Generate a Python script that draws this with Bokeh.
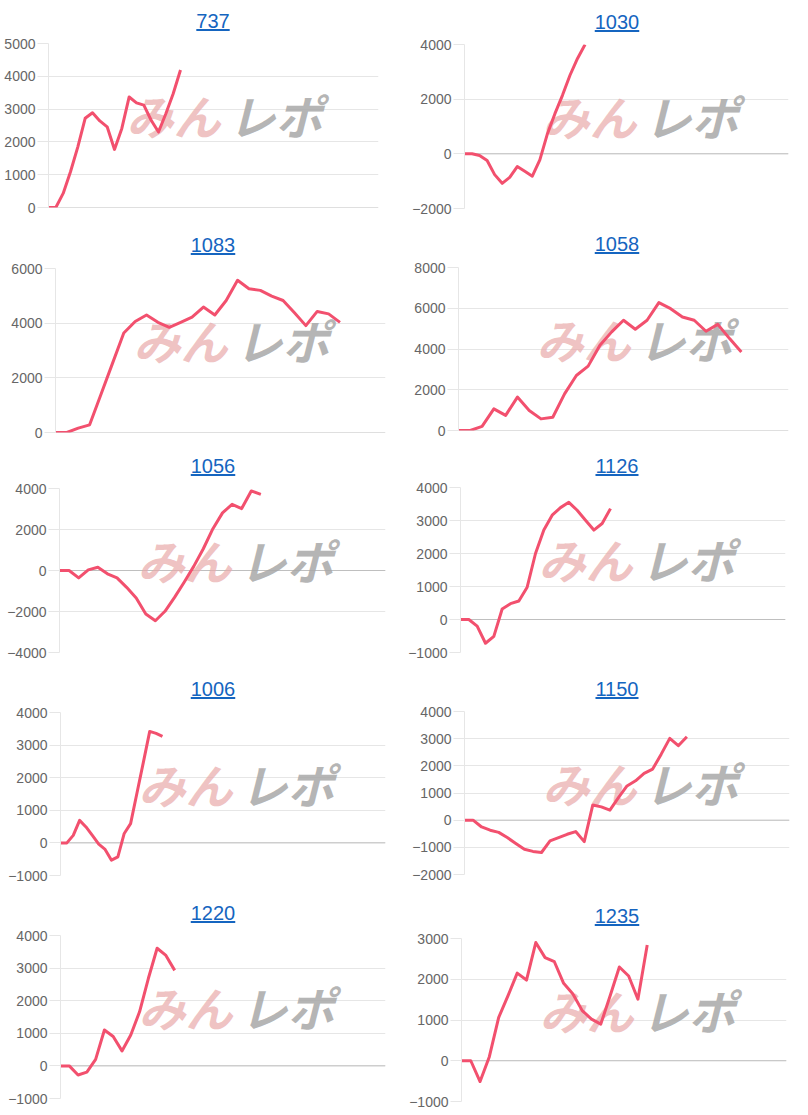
from bokeh.plotting import figure
from bokeh.models import Range1d, FixedTicker, Span, Label, Div
from bokeh.layouts import column, row
from bokeh.embed import file_html
from bokeh.resources import INLINE

# ---------------- data ----------------
titles = ["737", "1030", "1083", "1058", "1056", "1126", "1006", "1150", "1220", "1235"]

# number of x slots (categories) on each chart's x axis
n_slots = [46, 44, 30, 29, 35, 40, 52, 39, 38, 36]

vals_737 = [0, 0, 430, 1090, 1850, 2720, 2890, 2640, 2460, 1770, 2410, 3370, 3190, 3120,
            2660, 2300, 2860, 3470, 4190]
vals_1030 = [0, 0, -60, -245, -760, -1080, -860, -465, -640, -820, -220, 730, 1470, 2140,
             2875, 3490, 4000]
vals_1083 = [0, 0, 160, 280, 1400, 2520, 3640, 4060, 4300, 4030, 3850, 4030, 4220, 4590,
             4300, 4830, 5570, 5260, 5200, 4990, 4830, 4380, 3910, 4430, 4340, 4030]
vals_1058 = [0, 0, 200, 1060, 740, 1640, 980, 570, 650, 1800, 2700, 3160, 4180, 4840, 5410,
             4970, 5410, 6280, 5980, 5570, 5410, 4870, 5210, 4510, 3850]
vals_1056 = [0, 0, -360, 30, 160, -160, -360, -820, -1340, -2120, -2450, -1990, -1310, -570,
             200, 1060, 2040, 2810, 3230, 3020, 3880, 3710]
vals_1126 = [0, 0, -200, -720, -510, 320, 480, 560, 980, 2000, 2710, 3160, 3390, 3550, 3310,
             3010, 2710, 2910, 3360]
vals_1006 = [0, 0, 230, 690, 490, 230, -40, -200, -530, -430, 290, 590, 1530, 2470, 3420,
             3360, 3270]
vals_1150 = [0, 0, -250, -370, -450, -640, -860, -1070, -1150, -1190, -760, -640, -520, -420,
             -790, 560, 490, 370, 830, 1260, 1450, 1720, 1880, 2430, 3010, 2740, 3070]
vals_1220 = [0, 0, -280, -190, 200, 1100, 900, 460, 950, 1660, 2680, 3610, 3390, 2930]
vals_1235 = [0, 0, -510, 100, 1060, 1590, 2150, 1980, 2900, 2530, 2430, 1900, 1640, 1230, 1020,
             900, 1590, 2300, 2080, 1510, 2840]

series = [vals_737, vals_1030, vals_1083, vals_1058, vals_1056,
          vals_1126, vals_1006, vals_1150, vals_1220, vals_1235]

y_ticks_737 = [0, 1000, 2000, 3000, 4000, 5000]
y_ticks_1030 = [-2000, 0, 2000, 4000]
y_ticks_1083 = [0, 2000, 4000, 6000]
y_ticks_1058 = [0, 2000, 4000, 6000, 8000]
y_ticks_1056 = [-4000, -2000, 0, 2000, 4000]
y_ticks_1126 = [-1000, 0, 1000, 2000, 3000, 4000]
y_ticks_1006 = [-1000, 0, 1000, 2000, 3000, 4000]
y_ticks_1150 = [-2000, -1000, 0, 1000, 2000, 3000, 4000]
y_ticks_1220 = [-1000, 0, 1000, 2000, 3000, 4000]
y_ticks_1235 = [-1000, 0, 1000, 2000, 3000]

y_ticks = [y_ticks_737, y_ticks_1030, y_ticks_1083, y_ticks_1058, y_ticks_1056,
           y_ticks_1126, y_ticks_1006, y_ticks_1150, y_ticks_1220, y_ticks_1235]

# ---------------- layout (window pixel geometry) ----------------
frames = [
    (48, 43, 378, 207), (464, 44, 788, 208),
    (55, 268, 385, 432), (458, 267, 788, 430),
    (59, 488, 385, 652), (460, 487, 785, 652),
    (60, 712, 385, 875), (464, 711, 789, 874),
    (60, 935, 385, 1098), (461, 938, 786, 1101),
]
title_cy = [21, 22, 244.5, 244, 465.5, 465.5, 689, 689, 912.5, 915.5]
col_left = [0, 400]
col_width = [400, 408]
title_cx_offset = [13, 13]

LINE_COLOR = "#f2506e"
GRID = "#e6e6e6"
ZERO = "#bfbfbf"
TICK_TXT = "#666666"
FONT = "Liberation Sans"


def make_fig(i, fig_top, fig_h, col):
    L, T, R, B = frames[i]
    w = col_width[col]
    ticks = y_ticks[i]
    vals = series[i]
    p = figure(width=w, height=fig_h, output_backend="svg", toolbar_location=None,
               x_axis_location=None, tools="")
    p.frame_align = False
    p.min_border_left = L - col_left[col]
    p.min_border_right = col_left[col] + w - R
    p.min_border_top = T - fig_top
    p.min_border_bottom = fig_top + fig_h - B
    p.x_range = Range1d(0, n_slots[i] - 1)
    p.y_range = Range1d(ticks[0], ticks[-1])
    p.outline_line_color = None
    p.background_fill_color = "white"
    p.border_fill_color = "white"
    p.xgrid.visible = False
    p.ygrid.grid_line_color = GRID
    p.ygrid.grid_line_width = 1
    ax = p.yaxis[0]
    ax.ticker = FixedTicker(ticks=ticks)
    ax.minor_tick_line_color = None
    ax.major_tick_in = 0
    ax.major_tick_out = 11
    ax.major_tick_line_color = GRID
    ax.axis_line_color = GRID
    ax.major_label_standoff = 2
    ax.major_label_text_font = FONT
    ax.major_label_text_font_size = "14px"
    ax.major_label_text_color = TICK_TXT
    if ticks[0] <= 0 <= ticks[-1]:
        p.add_layout(Span(location=0, dimension="width", line_color=ZERO, line_width=1,
                          level="underlay"))
    # watermark (logo) placed relative to the frame
    fw = R - L
    fh = B - T
    x0, x1 = 0, n_slots[i] - 1
    y0, y1 = ticks[0], ticks[-1]

    def dx(px):
        return x0 + px / fw * (x1 - x0)

    def dy(py):
        return y1 - py / fh * (y1 - y0)

    p.add_layout(Label(x=dx(78), y=dy(71), text="みん", text_font="Noto Sans CJK JP",
                       text_font_style="bold italic", text_font_size="47px",
                       text_color="#e8a8a8", text_alpha=0.7, text_baseline="middle",
                       text_align="left", level="underlay"))
    p.add_layout(Label(x=dx(180), y=dy(71), text="レポ", text_font="Noto Sans CJK JP",
                       text_font_style="bold italic", text_font_size="47px",
                       text_color="#a8a8a8", text_alpha=0.85, text_baseline="middle",
                       text_align="left", level="underlay"))
    p.line(x=list(range(len(vals))), y=vals, line_width=3, line_color=LINE_COLOR,
           line_join="round")
    return p


def make_div(i, col, h, pad_top):
    pad = 2 * title_cx_offset[col]
    html = (f'<div style="width:{col_width[col]}px;height:{h}px;line-height:20px;'
            f'padding-top:{pad_top}px;text-align:center;padding-left:{pad}px;'
            f'box-sizing:border-box;'
            f'font-family:\'Liberation Sans\',Arial,sans-serif;font-size:20px;">'
            f'<span style="color:#1565c0;text-decoration:underline;">{titles[i]}</span></div>')
    return Div(text=html, width=col_width[col], height=h, margin=(0, 0, 0, 0))


cols = []
for col in range(2):
    idxs = [col + 2 * r for r in range(5)]
    items = []
    div_tops = [0] + [int(title_cy[i] - 12 + 0.5) for i in idxs[1:]]
    for r, i in enumerate(idxs):
        if r == 0:
            dh = 32
        else:
            dh = 24
        pad_top = int(round(title_cy[i] - div_tops[r] - 10))
        ftop = div_tops[r] + dh
        if r < 4:
            fend = div_tops[r + 1]
        else:
            fend = frames[i][3] + 10
        items.append(make_div(i, col, dh, pad_top))
        items.append(make_fig(i, ftop, fend - ftop, col))
    cols.append(column(*items, spacing=0))

layout = row(*cols, spacing=0)

open("out.html", "w").write(file_html(layout, INLINE))
